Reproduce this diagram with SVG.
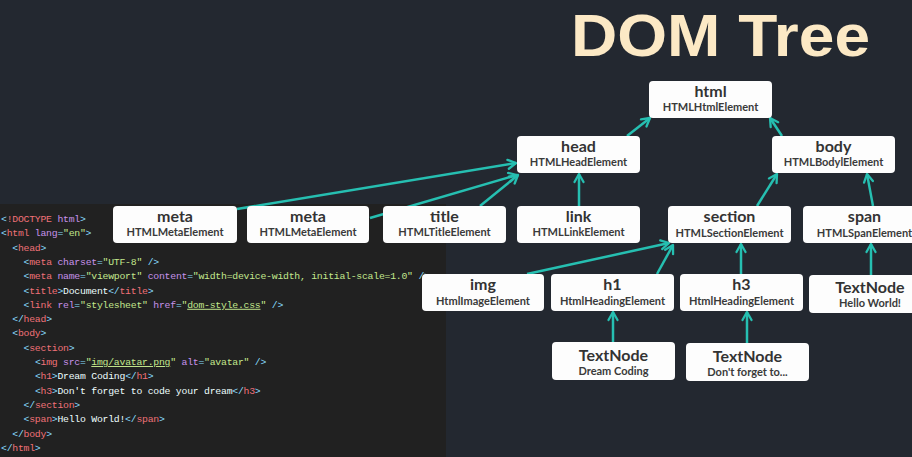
<svg xmlns="http://www.w3.org/2000/svg" width="912" height="457" viewBox="0 0 912 457">
<style>
.bg{fill:#232830}
.panel{fill:#212121}
.node rect{fill:#fdfdfd}
.t1{font-family:Lato,"Liberation Sans",sans-serif;font-weight:bold;font-size:16px;fill:#333;text-anchor:middle}
.t2{font-family:Lato,"Liberation Sans",sans-serif;font-weight:bold;font-size:11px;fill:#3a3a3a;text-anchor:middle}
.edge{stroke:#26bfb1;stroke-width:2.5;fill:none;marker-end:url(#arr)}
.title{font-family:"Liberation Sans",Arial,sans-serif;font-weight:bold;font-size:60px;fill:#fce9c5}
.code{font-family:"Liberation Mono",monospace;font-size:9.8px;letter-spacing:-0.24px;fill:#eeffff}
.p{fill:#89ddff}.tg{fill:#f07178}.at{fill:#c792ea}.s{fill:#c3e88d}.u{text-decoration:underline}
</style>
<defs>
<marker id="arr" markerUnits="userSpaceOnUse" viewBox="0 0 12 12" markerWidth="12" markerHeight="12" refX="10" refY="6" orient="auto">
<path d="M2,1.5 L10,6 L2,10.5" fill="none" stroke="#26bfb1" stroke-width="2.3" stroke-linecap="round" stroke-linejoin="round"/>
</marker>
</defs>
<rect class="bg" x="0" y="0" width="912" height="457"/>
<rect class="panel" x="0" y="204" width="446" height="253"/>
<text class="title" x="571" y="55.5" textLength="299" lengthAdjust="spacingAndGlyphs">DOM Tree</text>
<g id="code" class="code">
<text x="1" y="222"><tspan class="p">&lt;</tspan><tspan class="tg">!DOCTYPE</tspan> <tspan class="at">html</tspan><tspan class="p">&gt;</tspan></text>
<text x="1" y="236.3"><tspan class="p">&lt;</tspan><tspan class="tg">html</tspan> <tspan class="at">lang</tspan><tspan class="p">=</tspan><tspan class="s">"en"</tspan><tspan class="p">&gt;</tspan></text>
<text x="12.3" y="250.6"><tspan class="p">&lt;</tspan><tspan class="tg">head</tspan><tspan class="p">&gt;</tspan></text>
<text x="23.6" y="264.9"><tspan class="p">&lt;</tspan><tspan class="tg">meta</tspan> <tspan class="at">charset</tspan><tspan class="p">=</tspan><tspan class="s">"UTF-8"</tspan> <tspan class="p">/&gt;</tspan></text>
<text x="23.6" y="279.2"><tspan class="p">&lt;</tspan><tspan class="tg">meta</tspan> <tspan class="at">name</tspan><tspan class="p">=</tspan><tspan class="s">"viewport"</tspan> <tspan class="at">content</tspan><tspan class="p">=</tspan><tspan class="s">"width=device-width, initial-scale=1.0"</tspan> <tspan class="p">/&gt;</tspan></text>
<text x="23.6" y="293.5"><tspan class="p">&lt;</tspan><tspan class="tg">title</tspan><tspan class="p">&gt;</tspan>Document<tspan class="p">&lt;/</tspan><tspan class="tg">title</tspan><tspan class="p">&gt;</tspan></text>
<text x="23.6" y="307.8"><tspan class="p">&lt;</tspan><tspan class="tg">link</tspan> <tspan class="at">rel</tspan><tspan class="p">=</tspan><tspan class="s">"stylesheet"</tspan> <tspan class="at">href</tspan><tspan class="p">=</tspan><tspan class="s">"</tspan><tspan class="s u">dom-style.css</tspan><tspan class="s">"</tspan> <tspan class="p">/&gt;</tspan></text>
<text x="12.3" y="322.1"><tspan class="p">&lt;/</tspan><tspan class="tg">head</tspan><tspan class="p">&gt;</tspan></text>
<text x="12.3" y="336.4"><tspan class="p">&lt;</tspan><tspan class="tg">body</tspan><tspan class="p">&gt;</tspan></text>
<text x="23.6" y="350.7"><tspan class="p">&lt;</tspan><tspan class="tg">section</tspan><tspan class="p">&gt;</tspan></text>
<text x="34.9" y="365"><tspan class="p">&lt;</tspan><tspan class="tg">img</tspan> <tspan class="at">src</tspan><tspan class="p">=</tspan><tspan class="s">"</tspan><tspan class="s u">img/avatar.png</tspan><tspan class="s">"</tspan> <tspan class="at">alt</tspan><tspan class="p">=</tspan><tspan class="s">"avatar"</tspan> <tspan class="p">/&gt;</tspan></text>
<text x="34.9" y="379.3"><tspan class="p">&lt;</tspan><tspan class="tg">h1</tspan><tspan class="p">&gt;</tspan>Dream Coding<tspan class="p">&lt;/</tspan><tspan class="tg">h1</tspan><tspan class="p">&gt;</tspan></text>
<text x="34.9" y="393.6"><tspan class="p">&lt;</tspan><tspan class="tg">h3</tspan><tspan class="p">&gt;</tspan>Don't forget to code your dream<tspan class="p">&lt;/</tspan><tspan class="tg">h3</tspan><tspan class="p">&gt;</tspan></text>
<text x="23.6" y="407.9"><tspan class="p">&lt;/</tspan><tspan class="tg">section</tspan><tspan class="p">&gt;</tspan></text>
<text x="23.6" y="422.2"><tspan class="p">&lt;</tspan><tspan class="tg">span</tspan><tspan class="p">&gt;</tspan>Hello World!<tspan class="p">&lt;/</tspan><tspan class="tg">span</tspan><tspan class="p">&gt;</tspan></text>
<text x="12.3" y="436.5"><tspan class="p">&lt;/</tspan><tspan class="tg">body</tspan><tspan class="p">&gt;</tspan></text>
<text x="1" y="450.8"><tspan class="p">&lt;/</tspan><tspan class="tg">html</tspan><tspan class="p">&gt;</tspan></text>
</g>
<g id="connectors">
<line class="edge" x1="627" y1="136" x2="650" y2="118"/>
<line class="edge" x1="782" y1="136" x2="770" y2="118"/>
<line class="edge" x1="237" y1="209" x2="516" y2="163"/>
<line class="edge" x1="370" y1="218" x2="517" y2="175"/>
<line class="edge" x1="480" y1="206" x2="518" y2="175"/>
<line class="edge" x1="579" y1="206" x2="579" y2="174"/>
<line class="edge" x1="757" y1="206" x2="777" y2="174"/>
<line class="edge" x1="873" y1="206" x2="867" y2="174"/>
<line class="edge" x1="527" y1="274" x2="669" y2="243"/>
<line class="edge" x1="657" y1="274" x2="673" y2="245"/>
<line class="edge" x1="741" y1="274" x2="741" y2="244"/>
<line class="edge" x1="871" y1="275" x2="871" y2="244"/>
<line class="edge" x1="613" y1="342" x2="613" y2="312"/>
<line class="edge" x1="747" y1="343" x2="747" y2="312"/>
</g>
<g id="n-html" class="node"><rect x="649" y="81" width="123" height="37" rx="4"/><text class="t1" x="710.5" y="97">html</text><text class="t2" x="710.5" y="111">HTMLHtmlElement</text></g>
<g id="n-head" class="node"><rect x="517" y="136" width="123" height="37" rx="4"/><text class="t1" x="578.5" y="152">head</text><text class="t2" x="578.5" y="166">HTMLHeadElement</text></g>
<g id="n-body" class="node"><rect x="772" y="136" width="123" height="37" rx="4"/><text class="t1" x="833.5" y="152">body</text><text class="t2" x="833.5" y="166">HTMLBodylElement</text></g>
<g id="n-meta1" class="node"><rect x="113" y="206" width="124" height="37" rx="4"/><text class="t1" x="175" y="222">meta</text><text class="t2" x="175" y="236">HTMLMetaElement</text></g>
<g id="n-meta2" class="node"><rect x="247" y="206" width="122" height="37" rx="4"/><text class="t1" x="308" y="222">meta</text><text class="t2" x="308" y="236">HTMLMetaElement</text></g>
<g id="n-title" class="node"><rect x="383" y="206" width="123" height="37" rx="4"/><text class="t1" x="444.5" y="222">title</text><text class="t2" x="444.5" y="236">HTMLTitleElement</text></g>
<g id="n-link" class="node"><rect x="517" y="206" width="123" height="37" rx="4"/><text class="t1" x="578.5" y="222">link</text><text class="t2" x="578.5" y="236">HTMLLinkElement</text></g>
<g id="n-section" class="node"><rect x="668" y="206" width="123" height="37" rx="4"/><text class="t1" x="729.5" y="222">section</text><text class="t2" x="729.5" y="237">HTMLSectionElement</text></g>
<g id="n-span" class="node"><rect x="803" y="206" width="123" height="37" rx="4"/><text class="t1" x="864.5" y="222">span</text><text class="t2" x="864.5" y="237">HTMLSpanElement</text></g>
<g id="n-img" class="node"><rect x="422" y="274" width="122" height="37" rx="4"/><text class="t1" x="483" y="290">img</text><text class="t2" x="483" y="305">HtmlImageElement</text></g>
<g id="n-h1" class="node"><rect x="551" y="274" width="123" height="37" rx="4"/><text class="t1" x="612.5" y="290">h1</text><text class="t2" x="612.5" y="305">HtmlHeadingElement</text></g>
<g id="n-h3" class="node"><rect x="680" y="274" width="123" height="37" rx="4"/><text class="t1" x="741.5" y="290">h3</text><text class="t2" x="741.5" y="305">HtmlHeadingElement</text></g>
<g id="n-text-hello" class="node"><rect x="809" y="275" width="123" height="38" rx="4"/><text class="t1" x="870" y="293">TextNode</text><text class="t2" x="870" y="307">Hello World!</text></g>
<g id="n-text-dream" class="node"><rect x="552" y="342" width="123" height="38" rx="4"/><text class="t1" x="613.5" y="361">TextNode</text><text class="t2" x="613.5" y="375">Dream Coding</text></g>
<g id="n-text-dont" class="node"><rect x="686" y="343" width="123" height="38" rx="4"/><text class="t1" x="747.5" y="362">TextNode</text><text class="t2" x="747.5" y="376">Don't forget to...</text></g>
</svg>
